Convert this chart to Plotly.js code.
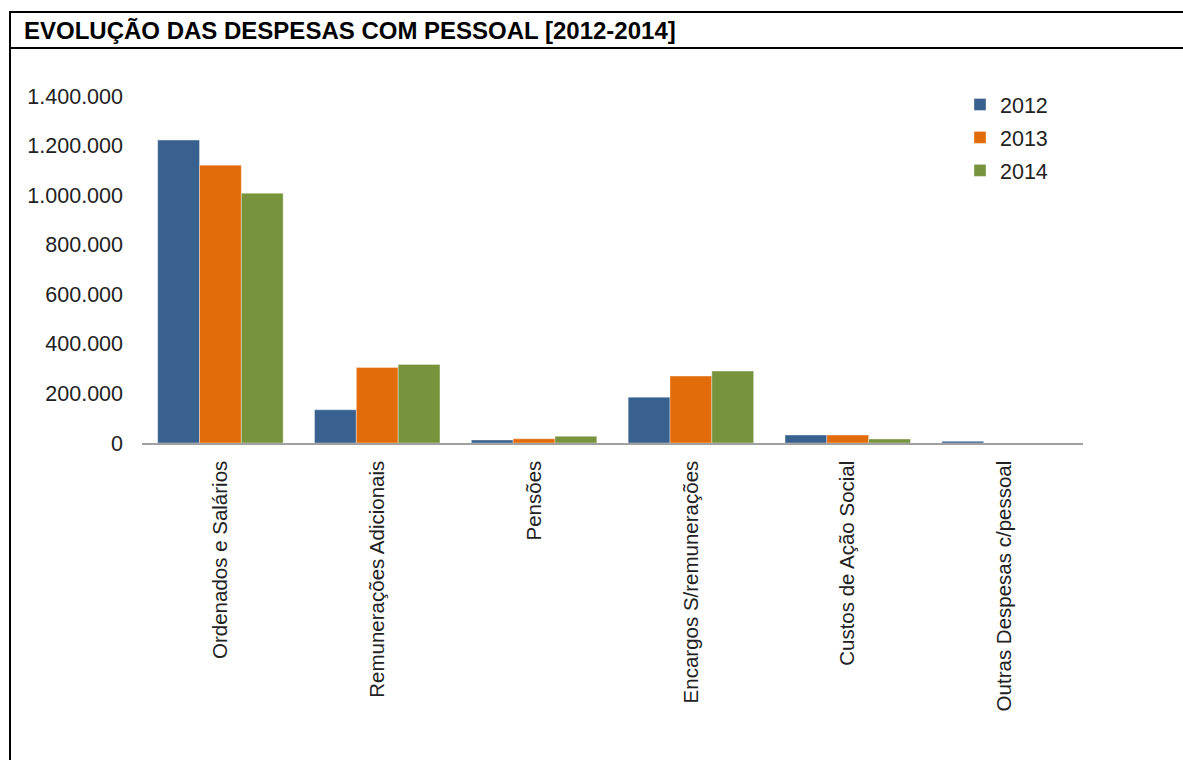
<!DOCTYPE html>
<html>
<head>
<meta charset="utf-8">
<script src="https://cdn.plot.ly/plotly-3.0.1.min.js"></script>
<style>
html,body{margin:0;padding:0;background:#fff;}
#chart{width:1183px;height:760px;}
</style>
</head>
<body>
<div id="chart"></div>
<script>
const categories = ["Ordenados e Salários", "Remunerações Adicionais", "Pensões", "Encargos S/remunerações", "Custos de Ação Social", "Outras Despesas c/pessoal"];
const years = ["2012", "2013", "2014"];
const values2012 = [1222000, 134000, 12000, 185000, 32000, 7000];
const values2013 = [1121000, 305000, 17000, 270000, 32000, 0];
const values2014 = [1008000, 317000, 27000, 290000, 16000, 0];
const colors = ["#38618F", "#E36C0A", "#77933C"];
const titleText = "EVOLUÇÃO DAS DESPESAS COM PESSOAL [2012-2014]";

const W = 1183, H = 760;
const M = {l: 142, r: 100, t: 96, b: 317};
const pw = W - M.l - M.r, ph = H - M.t - M.b;
const px = v => (v - M.l) / pw;
const py = v => (H - M.b - v) / ph;

const series = [values2012, values2013, values2014];
const traces = series.map((vals, i) => ({
  type: "bar",
  name: years[i],
  legendgroup: years[i],
  x: categories,
  y: vals,
  marker: {color: colors[i], line: {color: "rgba(255,255,255,0.6)", width: 0.6}},
  hoverinfo: "x+y+name"
}));

const frame = {type: "line", xref: "paper", yref: "paper", line: {color: "#000", width: 2}};
const layout = {
  width: W, height: H,
  margin: M,
  paper_bgcolor: "#fff", plot_bgcolor: "#fff",
  separators: ",.",
  font: {family: "Liberation Sans, Arial, sans-serif", size: 20, color: "#222"},
  title: {
    text: "<b>" + titleText + "</b>",
    xref: "container", yref: "container",
    x: 24 / W, xanchor: "left",
    y: 1 - 31 / H, yanchor: "middle",
    font: {family: "Liberation Sans, Arial, sans-serif", size: 24, color: "#000"}
  },
  barmode: "group",
  bargap: 0.2,
  bargroupgap: 0,
  xaxis: {
    type: "category",
    showgrid: false, zeroline: false,
    showline: true, linecolor: "#A0A0A0", linewidth: 1.5,
    ticks: "", tickangle: -90,
    ticklabelstandoff: 8,
    tickfont: {size: 20.5, color: "#222"}
  },
  yaxis: {
    range: [0, 1400000],
    dtick: 200000, tick0: 0,
    tickformat: ",d",
    showgrid: false, zeroline: false, showline: false,
    ticks: "",
    ticklabelstandoff: 18,
    tickfont: {size: 21.5, color: "#222"}
  },
  legend: {
    x: px(960), y: py(84), xanchor: "left", yanchor: "top",
    bgcolor: "rgba(0,0,0,0)",
    font: {size: 21.5, color: "#222"},
    itemwidth: 30, tracegroupgap: 2,
    traceorder: "grouped"
  },
  showlegend: true,
  shapes: [
    Object.assign({}, frame, {x0: px(10), x1: px(10), y0: py(12), y1: py(H + 5)}),
    Object.assign({}, frame, {x0: px(9), x1: px(W + 5), y0: py(12), y1: py(12)}),
    Object.assign({}, frame, {x0: px(9), x1: px(W + 5), y0: py(48), y1: py(48)})
  ]
};

Plotly.newPlot("chart", traces, layout, {displayModeBar: false, staticPlot: true});
</script>
</body>
</html>
